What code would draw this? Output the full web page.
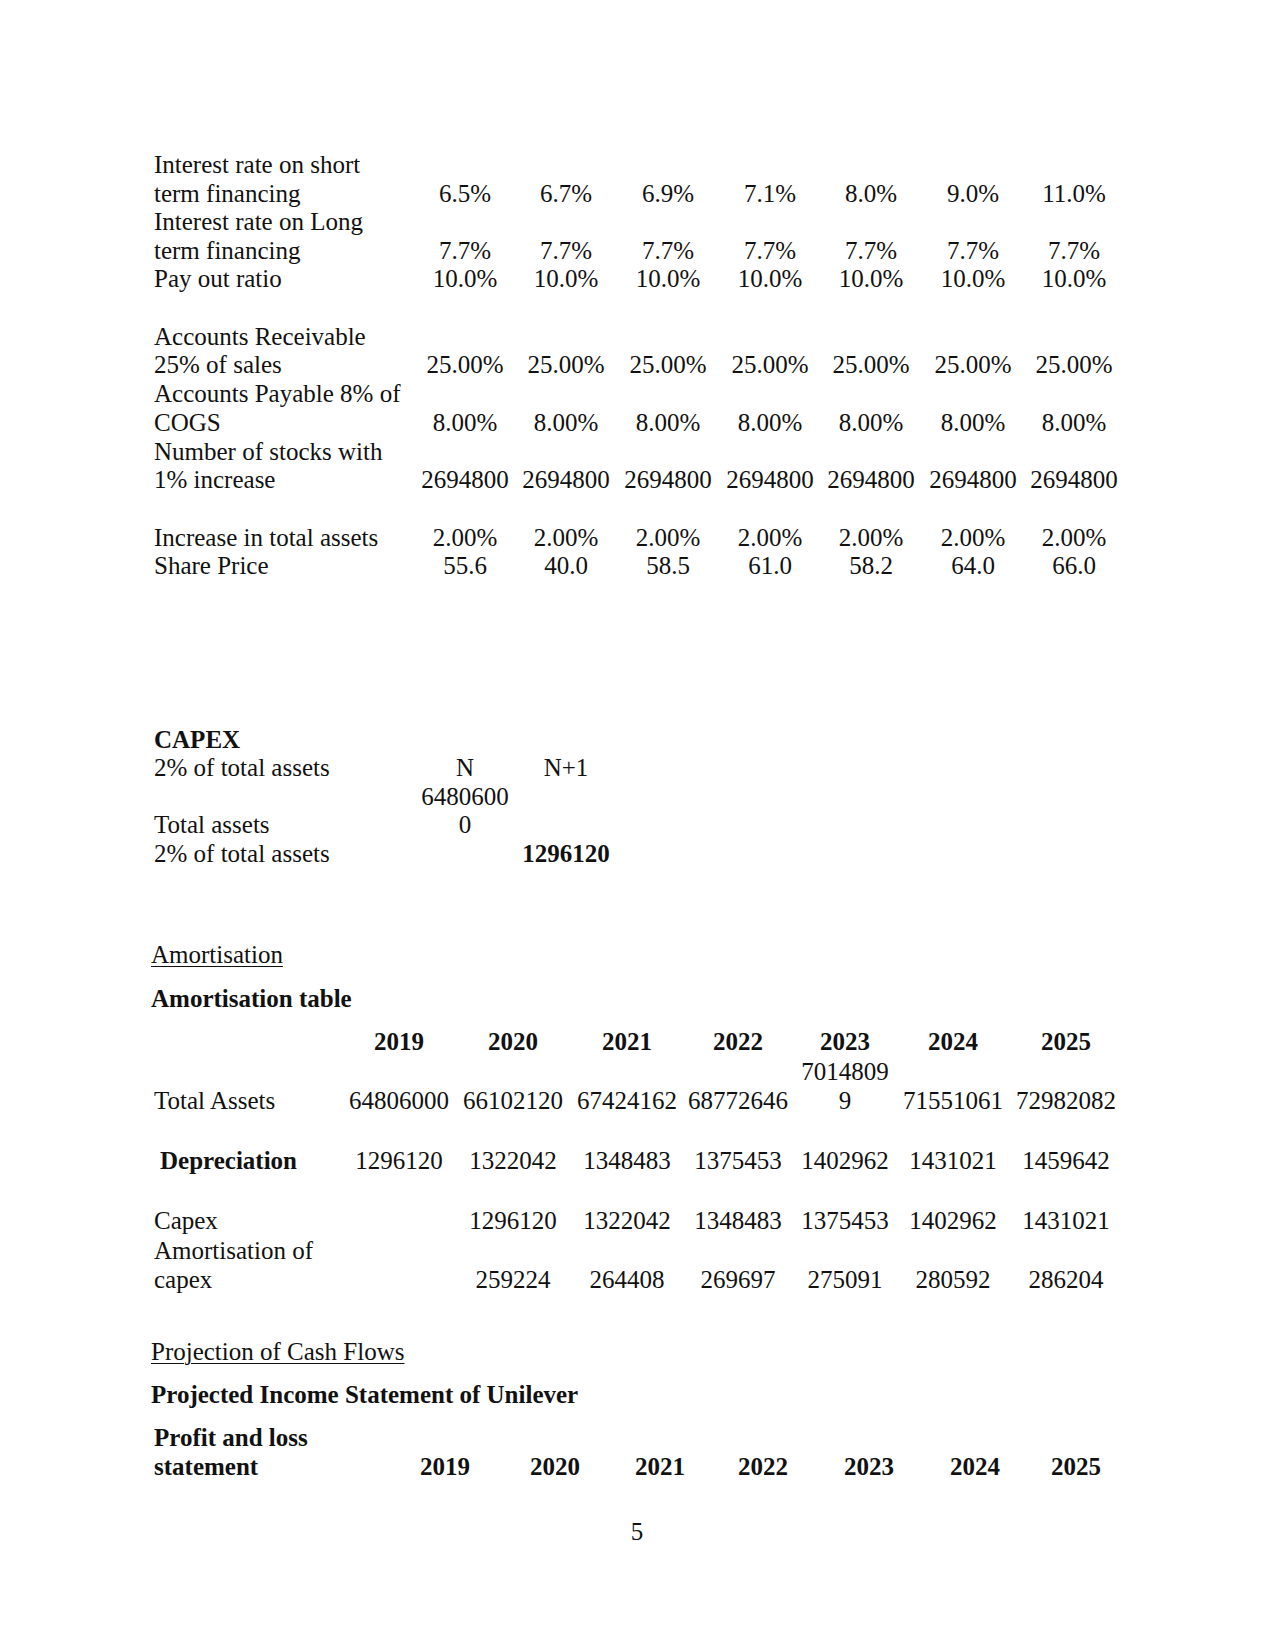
<!DOCTYPE html>
<html>
<head>
<title>Unilever projections - page 5</title>
<script src="https://cdn.jsdelivr.net/npm/chart.js"></script>
<style>
  body { margin: 0; background: #fff; }
  #page { position: relative; width: 1275px; height: 1651px; font-family: "Liberation Serif", "Times New Roman", serif; font-size: 25px; color: #111; }
  .t { position: absolute; line-height: 28px; height: 28px; white-space: nowrap; }
  .b { font-weight: bold; }
  .u { text-decoration: underline; text-underline-offset: 3px; text-decoration-thickness: 1px; }
</style>
</head>
<body>
<div id="page"></div>

<script>
    // assumptions table
    const shortRate = ['6.5%', '6.7%', '6.9%', '7.1%', '8.0%', '9.0%', '11.0%'];
    const longRate = ['7.7%', '7.7%', '7.7%', '7.7%', '7.7%', '7.7%', '7.7%'];
    const payout = ['10.0%', '10.0%', '10.0%', '10.0%', '10.0%', '10.0%', '10.0%'];
    const receivable = ['25.00%', '25.00%', '25.00%', '25.00%', '25.00%', '25.00%', '25.00%'];
    const payable = ['8.00%', '8.00%', '8.00%', '8.00%', '8.00%', '8.00%', '8.00%'];
    const stocks = ['2694800', '2694800', '2694800', '2694800', '2694800', '2694800', '2694800'];
    const assetGrowth = ['2.00%', '2.00%', '2.00%', '2.00%', '2.00%', '2.00%', '2.00%'];
    const sharePrice = ['55.6', '40.0', '58.5', '61.0', '58.2', '64.0', '66.0'];

    // capex
    const capexCols = ['N', 'N+1'];
    const totalAssetsN = ['6480600', '0'];
    const capexN1 = '1296120';

    // amortisation table
    const years = ['2019', '2020', '2021', '2022', '2023', '2024', '2025'];
    const totalAssets = ['64806000', '66102120', '67424162', '68772646', '70148099', '71551061', '72982082'];
    const depreciation = ['1296120', '1322042', '1348483', '1375453', '1402962', '1431021', '1459642'];
    const capex = ['', '1296120', '1322042', '1348483', '1375453', '1402962', '1431021'];
    const amortCapex = ['', '259224', '264408', '269697', '275091', '280592', '286204'];

    const page = document.getElementById('page');

    function put(text, x, y, align, cls) {
        const d = document.createElement('div');
        d.className = 't' + (cls ? ' ' + cls : '');
        d.textContent = text;
        d.style.top = (y - 14) + 'px';
        if (align === 'c') {
            d.style.left = (x - 200) + 'px';
            d.style.width = '400px';
            d.style.textAlign = 'center';
        } else {
            d.style.left = x + 'px';
        }
        page.appendChild(d);
    }

    // section 1
    const colX = [465, 566, 668, 770, 871, 973, 1074];
    const lx = 154;
    function row(vals, y) { vals.forEach((v, i) => put(v, colX[i], y, 'c')); }

    put('Interest rate on short', lx, 165);
    put('term financing', lx, 194); row(shortRate, 194);
    put('Interest rate on Long', lx, 222);
    put('term financing', lx, 251); row(longRate, 251);
    put('Pay out ratio', lx, 279); row(payout, 279);
    put('Accounts Receivable', lx, 337);
    put('25% of sales', lx, 365); row(receivable, 365);
    put('Accounts Payable 8% of', lx, 394);
    put('COGS', lx, 423); row(payable, 423);
    put('Number of stocks with', lx, 452);
    put('1% increase', lx, 480); row(stocks, 480);
    put('Increase in total assets', lx, 538); row(assetGrowth, 538);
    put('Share Price', lx, 566); row(sharePrice, 566);

    // capex
    put('CAPEX', lx, 740, null, 'b');
    put('2% of total assets', lx, 768);
    put(capexCols[0], 465, 768, 'c');
    put(capexCols[1], 566, 768, 'c');
    put(totalAssetsN[0], 465, 797, 'c');
    put('Total assets', lx, 825);
    put(totalAssetsN[1], 465, 825, 'c');
    put('2% of total assets', lx, 854);
    put(capexN1, 566, 854, 'c', 'b');

    // amortisation
    const ax = [399, 513, 627, 738, 845, 953, 1066];
    put('Amortisation', 151, 955, null, 'u');
    put('Amortisation table', 151, 999, null, 'b');
    years.forEach((v, i) => put(v, ax[i], 1042, 'c', 'b'));
    put('Total Assets', lx, 1101);
    totalAssets.forEach((v, i) => {
        if (i === 4) {
            // wrapped cell in the source
            put(v.slice(0, 7), ax[i], 1072, 'c');
            put(v.slice(7), ax[i], 1101, 'c');
        } else {
            put(v, ax[i], 1101, 'c');
        }
    });
    put('Depreciation', 160, 1161, null, 'b');
    depreciation.forEach((v, i) => put(v, ax[i], 1161, 'c'));
    put('Capex', lx, 1221);
    capex.forEach((v, i) => { if (v) put(v, ax[i], 1221, 'c'); });
    put('Amortisation of', lx, 1251);
    put('capex', lx, 1280);
    amortCapex.forEach((v, i) => { if (v) put(v, ax[i], 1280, 'c'); });

    // projection header
    const px = [445, 555, 660, 763, 869, 975, 1076];
    put('Projection of Cash Flows', 151, 1352, null, 'u');
    put('Projected Income Statement of Unilever', 151, 1395, null, 'b');
    put('Profit and loss', lx, 1438, null, 'b');
    put('statement', lx, 1467, null, 'b');
    years.forEach((v, i) => put(v, px[i], 1467, 'c', 'b'));

    put('5', 637, 1532, 'c');
</script>
</body>
</html>
